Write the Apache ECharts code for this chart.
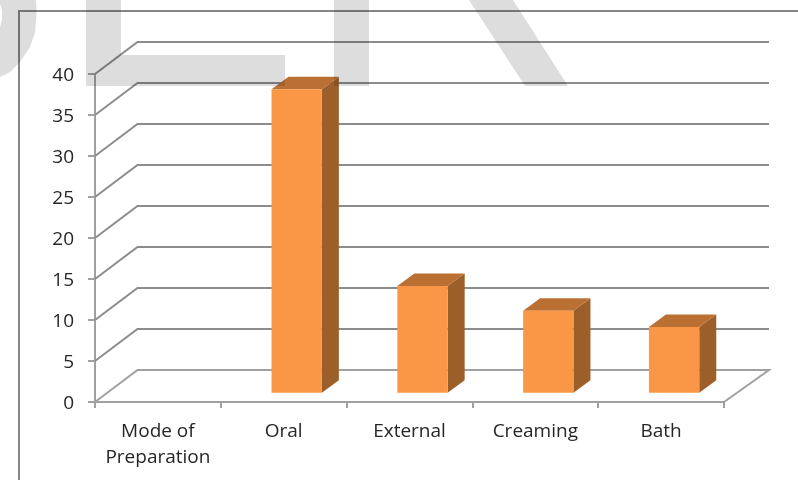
<!DOCTYPE html>
<html>
<head>
<meta charset="utf-8">
<style>html,body{margin:0;padding:0;background:#fff}#chart{width:798px;height:481px}</style>
<script src="https://cdn.jsdelivr.net/npm/echarts@6/dist/echarts.min.js"></script>
</head>
<body>
<div id="chart"></div>
<script>
// Number of herbal preparations per mode of preparation
const categories = ['Mode of\nPreparation', 'Oral', 'External', 'Creaming', 'Bath'];
const values = [null, 37, 13, 10, 8];
const yTicks = [0, 5, 10, 15, 20, 25, 30, 35, 40];

// Pseudo-3D projection: how far the back wall and the column depth are shifted
const WALL_DX = 42.5, WALL_RIGHT_DX = 45, WALL_DY = 32;
const BAR_SHIFT_X = 13, BAR_SHIFT_Y = 9.3, BAR_DX = 17, BAR_DY = 12.5, BAR_RATIO = 0.4;
const GRID_COLOR = '#8c8c8c', AXIS_COLOR = '#a0a0a0';
const FRONT = '#f99746', SIDE = '#9c5f2a', TOP = '#ba7033';
const TEXT_FONT = '"Open Sans", sans-serif';

const chart = echarts.init(document.getElementById('chart'), null, {renderer: 'canvas'});

// Wall lines: one polyline per y tick, side wall diagonal then back wall; floor edge on the right
function renderWall(params, api) {
  const value = api.value(0);
  const left = api.coord([0, value]);
  const right = api.coord([categories.length - 1, value]);
  const band = api.size([1, 0])[0];
  const x0 = left[0] - band / 2, x1 = right[0] + band / 2, y = left[1];
  const points = [[x0, y], [x0 + WALL_DX, y - WALL_DY], [x1 + WALL_RIGHT_DX, y - WALL_DY]];
  if (value === 0) points.push([x1, y]);
  return {
    type: 'polyline',
    shape: {points},
    style: {stroke: value === 0 ? AXIS_COLOR : GRID_COLOR, lineWidth: 2, fill: null}
  };
}

// Column with front, side and top faces
function renderColumn(params, api) {
  const top = api.coord([api.value(0), api.value(1)]);
  const base = api.coord([api.value(0), 0]);
  const w = api.size([1, 0])[0] * BAR_RATIO;
  const xl = top[0] + BAR_SHIFT_X - w / 2, xr = xl + w;
  const yt = top[1] - BAR_SHIFT_Y, yb = base[1] - BAR_SHIFT_Y;
  return {
    type: 'group',
    children: [
      {type: 'polygon', shape: {points: [[xr, yt], [xr + BAR_DX, yt - BAR_DY], [xr + BAR_DX, yb - BAR_DY], [xr, yb]]}, style: {fill: SIDE}},
      {type: 'polygon', shape: {points: [[xl, yt], [xl + BAR_DX, yt - BAR_DY], [xr + BAR_DX, yt - BAR_DY], [xr, yt]]}, style: {fill: TOP}},
      {type: 'rect', shape: {x: xl, y: yt, width: w, height: yb - yt}, style: {fill: FRONT}}
    ]
  };
}

const WATERMARK = 'rgba(0,0,0,0.135)';

chart.setOption({
  animation: false,
  backgroundColor: '#fff',
  grid: {left: 95, right: 74, top: 74, bottom: 79, containLabel: false},
  xAxis: {
    type: 'category',
    data: categories,
    boundaryGap: true,
    axisLine: {show: true, lineStyle: {color: AXIS_COLOR, width: 2}},
    axisTick: {show: true, alignWithLabel: false, length: 6, lineStyle: {color: AXIS_COLOR, width: 2}},
    axisLabel: {color: '#262626', fontFamily: TEXT_FONT, fontSize: 19, lineHeight: 26, margin: 17, interval: 0}
  },
  yAxis: {
    type: 'value',
    min: 0,
    max: 40,
    interval: 5,
    splitLine: {show: false},
    axisLine: {show: true, lineStyle: {color: AXIS_COLOR, width: 2}},
    axisTick: {show: true, length: 7, lineStyle: {color: AXIS_COLOR, width: 2}},
    axisLabel: {color: '#262626', fontFamily: TEXT_FONT, fontSize: 19, margin: 21, verticalAlign: 'top', lineHeight: 4}
  },
  series: [
    {
      type: 'custom',
      name: 'Walls',
      coordinateSystem: 'cartesian2d',
      renderItem: renderWall,
      encode: {y: 0},
      data: yTicks.map(v => [v]),
      silent: true,
      z: 1
    },
    {
      type: 'custom',
      name: 'Preparations',
      coordinateSystem: 'cartesian2d',
      renderItem: renderColumn,
      encode: {x: 0, y: 1},
      data: values.map((v, i) => [i, v]).filter(d => d[1] !== null),
      z: 2
    }
  ],
  graphic: {
    elements: [
      // Surrounding chart frame, running off the right and bottom edges
      {type: 'polyline', z: 50, shape: {points: [[19, 480], [19, 11], [798, 11]]}, style: {stroke: '#868686', lineWidth: 2, fill: null}},
      // Translucent document stamp over the plot
      {type: 'polygon', z: 100, shape: {points: [[0, 0], [36, 0], [36.7, 13], [35, 33], [30, 47], [20, 62], [10, 72], [0, 77], [0, 27], [2, 20], [2, 10], [0, 4]]}, style: {fill: WATERMARK}},
      {type: 'polygon', z: 100, shape: {points: [[86, 0], [121, 0], [121, 55], [285, 55], [285, 86], [86, 86]]}, style: {fill: WATERMARK}},
      {type: 'rect', z: 100, shape: {x: 334, y: 0, width: 35, height: 86}, style: {fill: WATERMARK}},
      {type: 'polygon', z: 100, shape: {points: [[469, 0], [513, 0], [568, 86], [525, 86]]}, style: {fill: WATERMARK}}
    ]
  }
});
</script>
</body>
</html>
